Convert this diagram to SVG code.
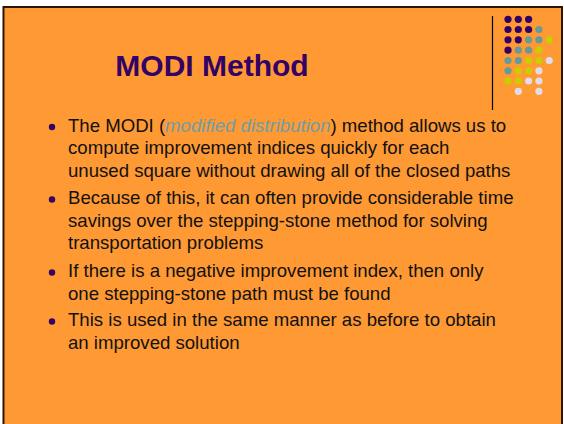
<svg xmlns="http://www.w3.org/2000/svg" width="564" height="424" viewBox="0 0 564 424">
<style>
.body{font-family:"Liberation Sans",Arial,sans-serif;font-size:18.6px;fill:#111111}
.title{font-family:"Liberation Sans",Arial,sans-serif;font-size:30px;font-weight:bold;fill:#330066}
.em{font-style:italic;fill:#6f9ea4}
.b{fill:#330066}
.p{fill:#330066}.t{fill:#669999}.y{fill:#cccc00}.l{fill:#ddddee}
</style>
<rect x="0" y="0" width="564" height="424" fill="#ffffff"/>
<rect id="slide" x="3.5" y="7" width="558.5" height="420" fill="#ff9933" stroke="#2a1500" stroke-width="2"/>
<g id="title"><text class="title" x="212" y="76" text-anchor="middle">MODI Method</text></g>
<g id="logo">
<line x1="492.5" y1="16" x2="492.5" y2="110" stroke="#000" stroke-width="1.2"/>
<g>
<circle class="p" cx="508" cy="19.3" r="3.6"/><circle class="p" cx="518.3" cy="19.3" r="3.6"/><circle class="p" cx="528.6" cy="19.3" r="3.6"/>
<circle class="p" cx="508" cy="29.5" r="3.6"/><circle class="p" cx="518.3" cy="29.5" r="3.6"/><circle class="p" cx="528.6" cy="29.5" r="3.6"/><circle class="t" cx="538.9" cy="29.5" r="3.6"/>
<circle class="p" cx="508" cy="39.8" r="3.6"/><circle class="p" cx="518.3" cy="39.8" r="3.6"/><circle class="t" cx="528.6" cy="39.8" r="3.6"/><circle class="t" cx="538.9" cy="39.8" r="3.6"/><circle class="y" cx="549.2" cy="39.8" r="3.6"/>
<circle class="p" cx="508" cy="50.2" r="3.6"/><circle class="t" cx="518.3" cy="50.2" r="3.6"/><circle class="t" cx="528.6" cy="50.2" r="3.6"/><circle class="y" cx="538.9" cy="50.2" r="3.6"/>
<circle class="t" cx="508" cy="60.5" r="3.6"/><circle class="t" cx="518.3" cy="60.5" r="3.6"/><circle class="y" cx="528.6" cy="60.5" r="3.6"/><circle class="y" cx="538.9" cy="60.5" r="3.6"/><circle class="l" cx="549.2" cy="60.5" r="3.6"/>
<circle class="t" cx="508" cy="70.8" r="3.6"/><circle class="y" cx="518.3" cy="70.8" r="3.6"/><circle class="y" cx="528.6" cy="70.8" r="3.6"/><circle class="l" cx="538.9" cy="70.8" r="3.6"/>
<circle class="y" cx="508" cy="81" r="3.6"/><circle class="y" cx="518.3" cy="81" r="3.6"/><circle class="l" cx="528.6" cy="81" r="3.6"/><circle class="l" cx="538.9" cy="81" r="3.6"/>
<circle class="l" cx="518.3" cy="91.3" r="3.6"/><circle class="l" cx="538.9" cy="91.3" r="3.6"/>
</g>
</g>
<g id="bullet1">
<circle class="b" cx="52" cy="127" r="3.2"/>
<text class="body" x="68" y="131.5">The MODI (<tspan class="em">modified distribution</tspan>) method allows us to</text>
<text class="body" x="68" y="154">compute improvement indices quickly for each</text>
<text class="body" x="68" y="176.5">unused square without drawing all of the closed paths</text>
</g>
<g id="bullet2">
<circle class="b" cx="52" cy="199.5" r="3.2"/>
<text class="body" x="68" y="204">Because of this, it can often provide considerable time</text>
<text class="body" x="68" y="226.5">savings over the stepping-stone method for solving</text>
<text class="body" x="68" y="249">transportation problems</text>
</g>
<g id="bullet3">
<circle class="b" cx="52" cy="272.5" r="3.2"/>
<text class="body" x="68" y="277">If there is a negative improvement index, then only</text>
<text class="body" x="68" y="299.5">one stepping-stone path must be found</text>
</g>
<g id="bullet4">
<circle class="b" cx="52" cy="321.5" r="3.2"/>
<text class="body" x="68" y="326">This is used in the same manner as before to obtain</text>
<text class="body" x="68" y="348.5">an improved solution</text>
</g>
</svg>
